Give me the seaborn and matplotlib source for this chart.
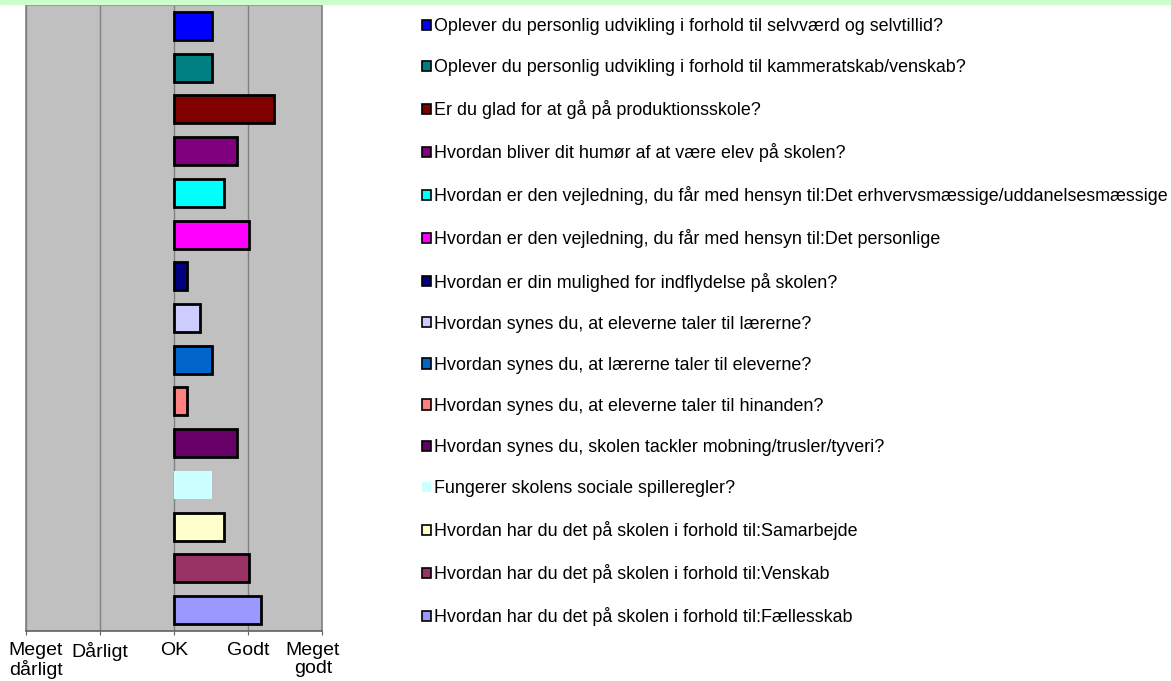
import matplotlib
matplotlib.use("Agg")
import matplotlib.pyplot as plt
import matplotlib.transforms as mtransforms
import seaborn as sns
import pandas as pd

questions = [
    "Oplever du personlig udvikling i forhold til selvværd og selvtillid?",
    "Oplever du personlig udvikling i forhold til kammeratskab/venskab?",
    "Er du glad for at gå på produktionsskole?",
    "Hvordan bliver dit humør af at være elev på skolen?",
    "Hvordan er den vejledning, du får med hensyn til:Det erhvervsmæssige/uddanelsesmæssige",
    "Hvordan er den vejledning, du får med hensyn til:Det personlige",
    "Hvordan er din mulighed for indflydelse på skolen?",
    "Hvordan synes du, at eleverne taler til lærerne?",
    "Hvordan synes du, at lærerne taler til eleverne?",
    "Hvordan synes du, at eleverne taler til hinanden?",
    "Hvordan synes du, skolen tackler mobning/trusler/tyveri?",
    "Fungerer skolens sociale spilleregler?",
    "Hvordan har du det på skolen i forhold til:Samarbejde",
    "Hvordan har du det på skolen i forhold til:Venskab",
    "Hvordan har du det på skolen i forhold til:Fællesskab",
]
# scores on a 1..5 scale (1 = Meget dårligt, 3 = OK, 5 = Meget godt)
scores = [3.51, 3.51, 4.35, 3.85, 3.68, 4.01, 3.18, 3.35, 3.51, 3.18, 3.85, 3.51, 3.68, 4.02, 4.18]
colors = ["#0000FF", "#008080", "#800000", "#800080", "#00FFFF", "#FF00FF", "#000080",
          "#CCCCFF", "#0066CC", "#FF8080", "#660066", "#CCFFFF", "#FFFFCC", "#993366", "#9999FF"]
tick_values = [1, 2, 3, 4, 5]
tick_labels = ["Meget\ndårligt", "Dårligt", "OK", "Godt", "Meget\ngodt"]

OK_LEVEL = 3
NO_EDGE = "#CCFFFF"
df = pd.DataFrame({"q": questions, "score": scores})
df["diff"] = df["score"] - OK_LEVEL

plt.rcParams["font.family"] = ["Liberation Sans", "DejaVu Sans"]
fig = plt.figure(figsize=(11.71, 6.81), dpi=100)
fig.patches.append(plt.Rectangle((0, 1 - 4 / 681), 1, 4 / 681, transform=fig.transFigure,
                                 color="#CCFFCC", zorder=0))
ax = fig.add_axes([26 / 1171, 1 - 631 / 681, (322 - 26) / 1171, (631 - 5) / 681])
ax.set_facecolor("#C0C0C0")

sns.barplot(data=df, x="diff", y="q", hue="q", palette=colors, orient="h", saturation=1,
            dodge=False, width=0.67, edgecolor="black", linewidth=2, legend=True, ax=ax,
            zorder=3)
for p in ax.patches:
    if matplotlib.colors.to_hex(p.get_facecolor()).upper() == NO_EDGE:
        p.set_linewidth(0)

ax.set_xlim(tick_values[0] - OK_LEVEL, tick_values[-1] - OK_LEVEL)
ax.set_xticks([v - OK_LEVEL for v in tick_values])
ax.set_xticklabels(tick_labels, fontsize=14, linespacing=1.05)
ax.set_yticks([])
ax.set_xlabel("")
ax.set_ylabel("")
ax.grid(axis="x", color="#808080", linewidth=1, zorder=1)
ax.set_axisbelow(True)
for s in ax.spines.values():
    s.set_color("#808080")
    s.set_linewidth(1.2)
ax.spines["bottom"].set_color("#606060")
ax.tick_params(axis="x", length=3, color="#606060", pad=5)
# keep the outer labels inside the figure, as in the original
for lbl, dx in zip(ax.get_xticklabels(), [10, 0, 0, 0, -9]):
    lbl.set_transform(lbl.get_transform() + mtransforms.ScaledTranslation(dx / 100, 0, fig.dpi_scale_trans))

handles, labels = ax.get_legend_handles_labels()
ax.legend_.remove()
leg = fig.legend(handles, labels, loc="upper left", bbox_to_anchor=(422 / 1171, 1 - 18 / 681),
                 frameon=False, fontsize=12.9, handlelength=0.5, handleheight=0.5,
                 handletextpad=0.15, labelspacing=1.345, borderpad=0, borderaxespad=0)
for h in leg.legend_handles:
    if matplotlib.colors.to_hex(h.get_facecolor()).upper() == NO_EDGE:
        h.set_linewidth(0)
    else:
        h.set_linewidth(1.2)
        h.set_edgecolor("black")

fig.savefig("out.png", dpi=100)
